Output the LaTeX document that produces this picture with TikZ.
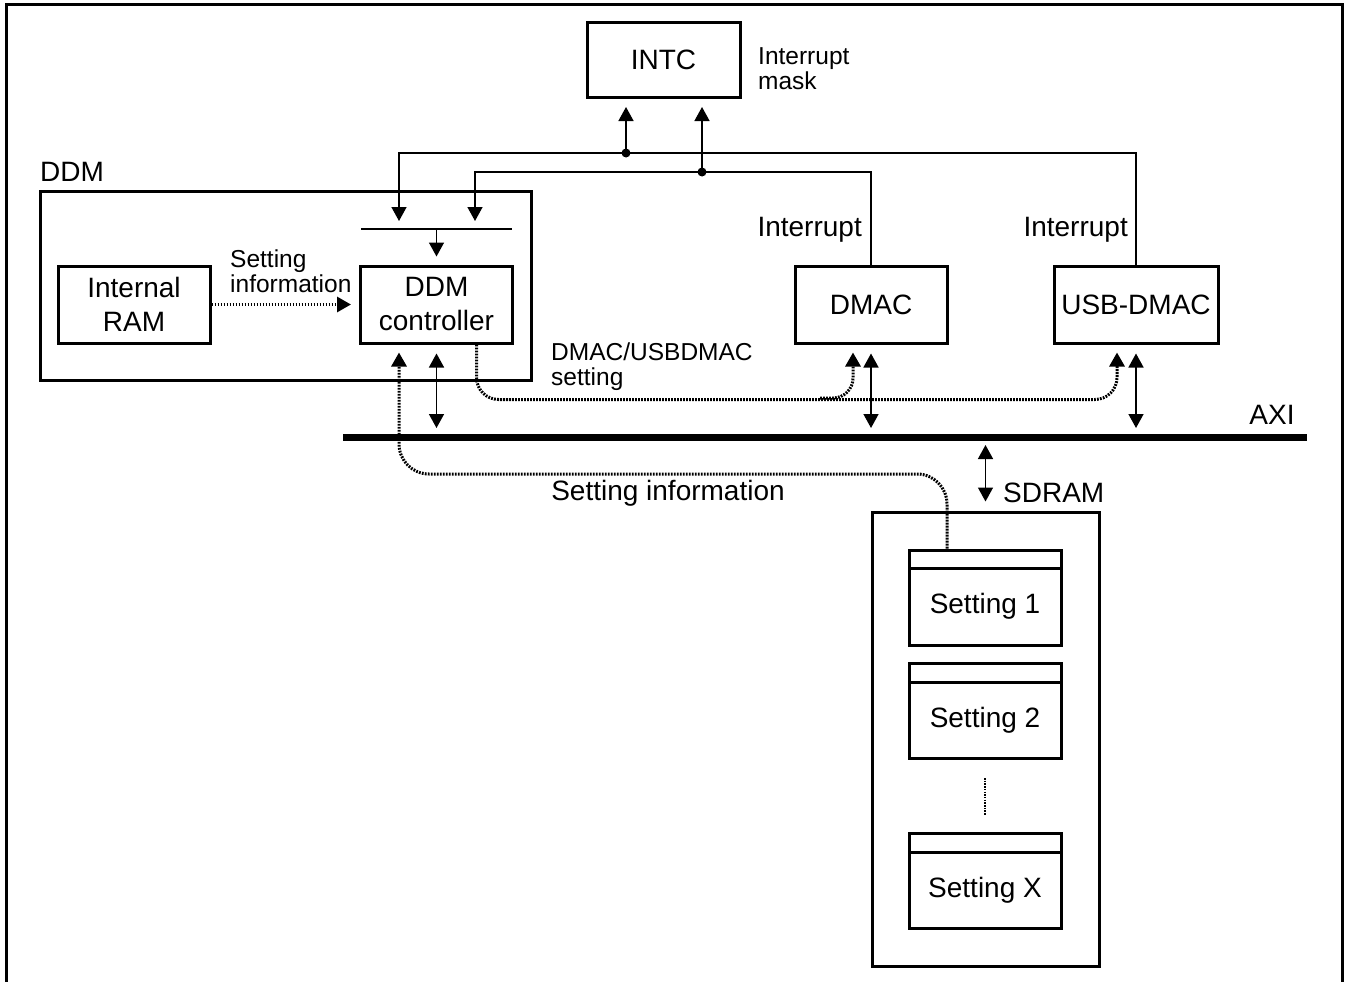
\documentclass[tikz,border=0pt]{standalone}
\usepackage{fontspec}
\setmainfont{Liberation Sans}
\usetikzlibrary{arrows.meta}
\tikzset{
  big/.style={font=\fontsize{28}{34}\selectfont},
  small/.style={font=\fontsize{24.5}{25}\selectfont},
  box/.style={draw, line width=3pt, inner sep=0pt, big, align=center, minimum width=152pt, minimum height=77pt},
  conn/.style={line width=1.5pt},
  tipend/.style={-{Triangle[length=14pt,width=15pt]}, shorten >=8pt},
  dbl/.style={{Triangle[length=14pt,width=15pt]}-{Triangle[length=14pt,width=15pt]}, shorten >=9pt, shorten <=9pt},
  dots/.style={line width=3pt, dash pattern=on 1.8pt off 1.2pt},
  txt/.style={inner sep=0pt},
}
\begin{document}
\begin{tikzpicture}[x=1pt,y=-1pt]
\useasboundingbox (0,0) rectangle (1346,982);
% frame
\draw[line width=3pt] (6,982) -- (6,5) -- (1342,5) -- (1342,982);

% INTC
\node[box, minimum width=153pt, minimum height=75pt] (intc) at (663.5,60) {INTC};
\node[small, txt, align=left, anchor=west] (mask) at (758,69) {Interrupt\\mask};

% DDM
\node[draw, line width=3pt, minimum width=491pt, minimum height=189pt, inner sep=0pt] (ddm) at (285.5,285.5) {};
\node[big, txt, anchor=west] (ddmlbl) at (40,172) {DDM};
\node[box] (ram) at (134,304.5) {Internal\\RAM};
\node[box] (ctrl) at (436.5,304.5) {DDM\\controller};
\node[small, txt, align=left, anchor=west] (setinfo1) at (230,271.5) {Setting\\information};

% DMACs
\node[box] (dmac) at (871,304.5) {DMAC};
\node[box, minimum width=164pt] (usb) at (1136,304.5) {USB-DMAC};
\node[big, txt, anchor=east] (int1) at (862,230) {Interrupt};
\node[big, txt, anchor=east] (int2) at (1128,230) {Interrupt};
\node[small, txt, align=left, anchor=west] (dmacset) at (551,367) {DMAC/USBDMAC\\setting};

% bus
\coordinate (busL) at (343,437);
\coordinate (busR) at (1307,437);
\draw[line width=7pt] (busL) -- (busR);
\node[big, txt] (axi) at (1272,415) {AXI};

% bar in DDM
\coordinate (barL) at (361,229);
\coordinate (barR) at (512,229);
\coordinate (b1) at (399,229);
\coordinate (b2) at (475,229);
\coordinate (bc) at (436.5,229);
\draw[conn] (barL) -- (barR);

% SDRAM
\node[draw, line width=3pt, minimum width=227pt, minimum height=454pt, inner sep=0pt] (sdram) at (985.5,739) {};
\node[big, txt, anchor=west] (sdramlbl) at (1003,493) {SDRAM};
\node[draw, line width=3pt, minimum width=152pt, minimum height=18pt, inner sep=0pt] (h1) at (985,559) {};
\node[box, minimum height=77pt] (s1) at (985,606.5) {Setting 1};
\node[draw, line width=3pt, minimum width=152pt, minimum height=19pt, inner sep=0pt] (h2) at (985,672.5) {};
\node[box, minimum height=76pt] (s2) at (985,720) {Setting 2};
\node[draw, line width=3pt, minimum width=152pt, minimum height=19pt, inner sep=0pt] (hx) at (985,842.5) {};
\node[box, minimum height=76pt] (sx) at (985,890) {Setting X};
\coordinate (vd1) at (985,778);
\coordinate (vd2) at (985,815);
\draw[line width=2.5pt, dash pattern=on 1.5pt off 1.2pt] (vd1) -- (vd2);

\node[big, txt] (setinfo2) at (668,493) {Setting information};

% interrupt lines
\coordinate (j1) at (626,153);
\coordinate (j2) at (702,172);
\draw[conn, tipend] (usb.north) |- (j1) -| (b1);
\draw[conn, tipend] (dmac.north) |- (j2) -| (b2);
\draw[conn, tipend] (j1) -- (j1 |- intc.south);
\draw[conn, tipend] (j2) -- (j2 |- intc.south);
\fill (j1) circle[radius=4.5pt];
\fill (j2) circle[radius=4.5pt];
\draw[conn, tipend] (bc) -- (ctrl.north);

% data arrows
\draw[dots, tipend] (ram.east) -- (ctrl.west);
\draw[conn, dbl] (ctrl.south) -- (ctrl.south |- busL);
\draw[conn, dbl] (dmac.south) -- (dmac.south |- busL);
\draw[conn, dbl] (usb.south) -- (usb.south |- busL);
\draw[conn, {Triangle[length=14pt,width=15pt]}-{Triangle[length=14pt,width=15pt]}, shorten <=8pt, shorten >=9pt] (sdram.north |- busL) -- (sdram.north);

% dotted setting paths
\coordinate (br) at (820,398);
\draw[dots, tipend, rounded corners=22pt] ([xshift=40pt]ctrl.south) -- ++(0,55) -| ([xshift=-19pt]usb.south);
\draw[dots, tipend, rounded corners=20pt] (br) -| ([xshift=-18pt]dmac.south);
\coordinate (r1) at (700,474);
\draw[dots, tipend, rounded corners=30pt] ([xshift=-38pt]h1.north) |- (r1) -| ([xshift=-37.5pt]ctrl.south);
\end{tikzpicture}
\end{document}
